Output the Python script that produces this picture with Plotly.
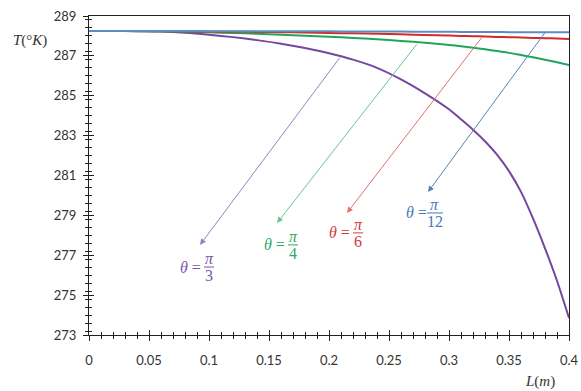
import plotly.graph_objects as go

L = [0, 0.02, 0.04, 0.06, 0.08, 0.10, 0.12, 0.14, 0.16, 0.18, 0.20, 0.22, 0.24, 0.26,
     0.28, 0.30, 0.31, 0.32, 0.33, 0.34, 0.35, 0.36, 0.37, 0.38, 0.39, 0.40]
T_pi3 = [288.25, 288.25, 288.24, 288.22, 288.16, 288.06, 287.94, 287.79, 287.61, 287.39,
         287.13, 286.81, 286.4, 285.82, 285.12, 284.32, 283.82, 283.3, 282.72, 282.05,
         281.22, 280.18, 278.85, 277.35, 275.72, 273.85]
T_pi4 = [288.25, 288.25, 288.24, 288.23, 288.21, 288.18, 288.15, 288.11, 288.06, 288.01,
         287.96, 287.9, 287.83, 287.75, 287.66, 287.55, 287.48, 287.41, 287.33, 287.24,
         287.15, 287.04, 286.93, 286.81, 286.68, 286.54]
T_pi6 = [288.25, 288.25, 288.25, 288.24, 288.23, 288.22, 288.21, 288.2, 288.19, 288.17,
         288.15, 288.13, 288.11, 288.08, 288.05, 288.02, 288.0, 287.99, 287.97, 287.95,
         287.94, 287.92, 287.9, 287.89, 287.87, 287.85]
T_pi12 = [288.25, 288.25, 288.25, 288.25, 288.25, 288.24, 288.24, 288.24, 288.23, 288.23,
          288.23, 288.22, 288.22, 288.22, 288.21, 288.21, 288.2, 288.2, 288.2, 288.2,
          288.19, 288.19, 288.19, 288.18, 288.18, 288.18]

x_ticks = [0, 0.05, 0.1, 0.15, 0.2, 0.25, 0.3, 0.35, 0.4]
x_ticklabels = ["0", "0.05", "0.1", "0.15", "0.2", "0.25", "0.3", "0.35", "0.4"]
y_ticks = [273, 275, 277, 279, 281, 283, 285, 287, 289]

# name, values, line colour, arrow colour, label colour, denominator
series = [
    ("π/3", T_pi3, "#7447a0", "#9a7fbf", "#7a55a8", "3"),
    ("π/4", T_pi4, "#1fa65a", "#6cc494", "#2ea85f", "4"),
    ("π/6", T_pi6, "#d42a2a", "#e47070", "#d03a3a", "6"),
    ("π/12", T_pi12, "#5b8cc4", "#4f86b8", "#3f7cb5", "12"),
]
# arrow tail (on curve), arrow head, label (fraction-bar) centre, in data coords
arrows = {
    "π/3": ((0.21, 286.99), (0.0925, 277.52), (0.1, 276.41)),
    "π/4": ((0.274, 287.65), (0.1567, 278.62), (0.17, 277.52)),
    "π/6": ((0.3283, 288.0), (0.215, 279.12), (0.2242, 278.12)),
    "π/12": ((0.381, 288.25), (0.2825, 280.17), (0.2883, 279.12)),
}

fig = go.Figure()
for name, ys, col, acol, tcol, den in series:
    fig.add_trace(go.Scatter(x=L, y=ys, mode="lines",
                             line=dict(color=col, width=2, shape="spline", smoothing=0.6),
                             name=name, showlegend=False, hoverinfo="skip"))
# dummy trace for overlay axes (inside ticks)
fig.add_trace(go.Scatter(x=[0, 0.4], y=[273, 289], xaxis="x2", yaxis="y2", mode="lines",
                         line=dict(width=0), showlegend=False, hoverinfo="skip"))

lab_font = "Liberation Serif"
annotations = []
shapes = []
for name, ys, col, acol, tcol, den in series:
    tail, head, lab = arrows[name]
    annotations.append(dict(x=head[0], y=head[1], ax=tail[0], ay=tail[1], xref="x", yref="y",
                            axref="x", ayref="y", text="", showarrow=True, arrowhead=2,
                            arrowsize=1.2, arrowwidth=1, arrowcolor=acol))
    xc, yl = lab
    annotations.append(dict(x=xc, y=yl, xref="x", yref="y", text="<i>θ</i> =", showarrow=False,
                            xanchor="right", yanchor="middle", xshift=-6,
                            font=dict(family=lab_font, size=16, color=tcol)))
    annotations.append(dict(x=xc, y=yl, xref="x", yref="y", text="<i>π</i>", showarrow=False,
                            xanchor="center", yanchor="bottom", yshift=-2,
                            font=dict(family=lab_font, size=16, color=tcol)))
    annotations.append(dict(x=xc, y=yl, xref="x", yref="y", text=den, showarrow=False,
                            xanchor="center", yanchor="top", yshift=2,
                            font=dict(family=lab_font, size=16, color=tcol)))
    w = 5 if len(den) == 1 else 8
    shapes.append(dict(type="line", xref="x", yref="y", xsizemode="pixel", ysizemode="pixel",
                       xanchor=xc, yanchor=yl, x0=-w, x1=w, y0=0, y1=0,
                       line=dict(color=tcol, width=1)))

annotations.append(dict(x=-0.123, y=287.75, xref="paper", yref="y", text="<i>T</i>(°<i>K</i>)",
                        showarrow=False, xanchor="center", yanchor="middle",
                        font=dict(family=lab_font, size=15, color="#333333")))
annotations.append(dict(x=0.94, y=-0.145, xref="paper", yref="paper", text="<i>L</i>(<i>m</i>)",
                        showarrow=False, xanchor="center", yanchor="middle",
                        font=dict(family=lab_font, size=15, color="#333333")))

axis_common = dict(showgrid=False, zeroline=False, linecolor="#222222", linewidth=1,
                   automargin=False)
fig.update_layout(
    width=581, height=391, autosize=False,
    margin=dict(l=89, r=12, t=16, b=56, autoexpand=False),
    plot_bgcolor="white", paper_bgcolor="white",
    font=dict(family="Lato", size=13, color="#333333"),
    xaxis=dict(range=[0, 0.4], tickvals=x_ticks, ticktext=x_ticklabels, showline=True, mirror=True,
               ticks="outside", ticklen=5, tickcolor="#222222", ticklabelstandoff=8,
               minor=dict(dtick=0.01, ticks="outside", ticklen=3, tickcolor="#222222"),
               **axis_common),
    yaxis=dict(range=[273, 289], tickvals=y_ticks, showline=True, mirror=True,
               ticks="outside", ticklen=5, tickcolor="#222222", ticklabelstandoff=4,
               minor=dict(dtick=0.4, ticks="outside", ticklen=3, tickcolor="#222222"),
               **axis_common),
    xaxis2=dict(range=[0, 0.4], overlaying="x", tickvals=x_ticks, showticklabels=False,
                ticks="inside", ticklen=5, tickcolor="#222222", anchor="y2", automargin=False,
                minor=dict(dtick=0.01, ticks="inside", ticklen=3, tickcolor="#222222"),
                showgrid=False, zeroline=False, showline=False),
    yaxis2=dict(range=[273, 289], overlaying="y", tickvals=y_ticks, showticklabels=False,
                ticks="inside", ticklen=5, tickcolor="#222222", anchor="x2", automargin=False,
                minor=dict(dtick=0.4, ticks="inside", ticklen=3, tickcolor="#222222"),
                showgrid=False, zeroline=False, showline=False),
    annotations=annotations,
    shapes=shapes,
)
fig.write_html("out.html", config={"displayModeBar": False},
               post_script="document.body.style.margin='0';")
